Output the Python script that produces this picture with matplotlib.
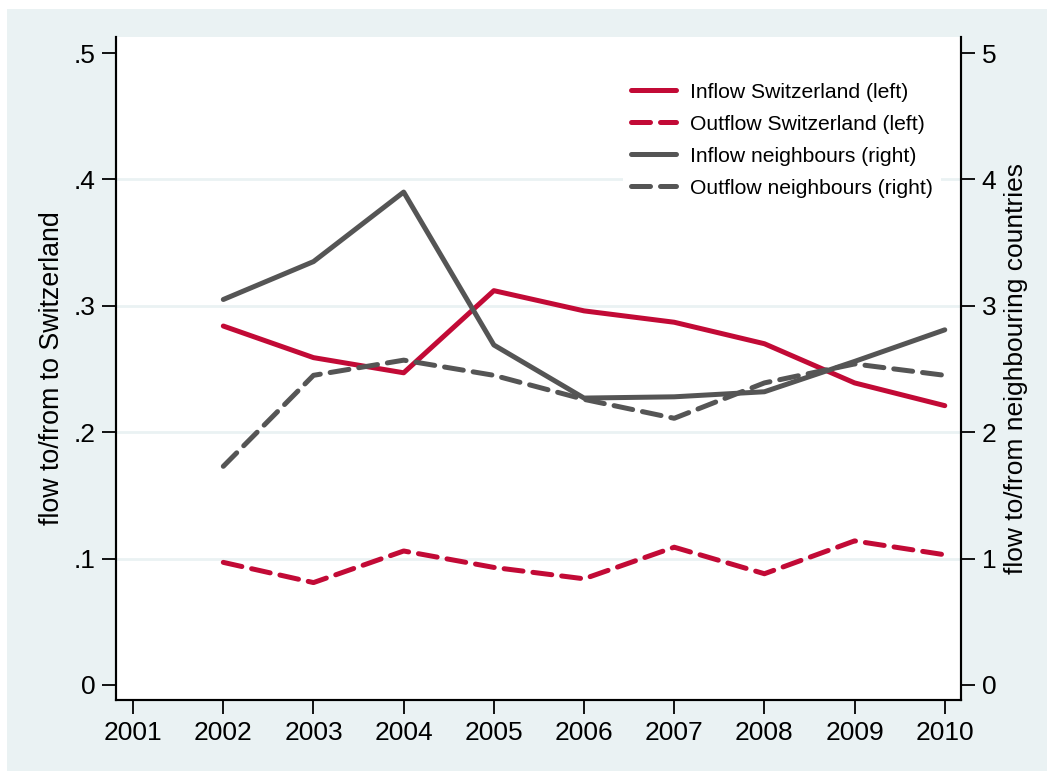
import matplotlib.pyplot as plt
import matplotlib.patches as mpatches

# ---------------- data ----------------
years = [2002, 2003, 2004, 2005, 2006, 2007, 2008, 2009, 2010]
inflow_ch = [0.284, 0.259, 0.247, 0.312, 0.296, 0.287, 0.270, 0.239, 0.221]
outflow_ch = [0.097, 0.081, 0.106, 0.093, 0.084, 0.109, 0.088, 0.114, 0.103]
inflow_nb = [3.05, 3.35, 3.90, 2.69, 2.27, 2.28, 2.32, 2.56, 2.81]
outflow_nb = [1.73, 2.45, 2.57, 2.45, 2.26, 2.11, 2.39, 2.54, 2.45]

x_ticks = list(range(2001, 2011))
left_ticks = [0, 0.1, 0.2, 0.3, 0.4, 0.5]
left_labels = ['0', '.1', '.2', '.3', '.4', '.5']
right_ticks = [0, 1, 2, 3, 4, 5]

labels = ['Inflow Switzerland (left)', 'Outflow Switzerland (left)',
          'Inflow neighbours (right)', 'Outflow neighbours (right)']

red = '#c20a36'
grey = '#555555'
bg = '#eaf2f3'

plt.rcParams['font.family'] = ['Liberation Sans', 'DejaVu Sans']

fig = plt.figure(figsize=(10.5, 7.71), dpi=100)
fig.patch.set_facecolor('white')
# light outer panel (white strip left on top, as in the source image)
fig.patches.append(mpatches.Rectangle((7 / 1050, 0), 1040 / 1050, 1 - 9 / 771,
                                      transform=fig.transFigure, facecolor=bg,
                                      edgecolor='none', zorder=-10))

ax = fig.add_axes([116 / 1050, 1 - 700 / 771, 845 / 1050, 663 / 771])
ax2 = ax.twinx()

lw = 3.6
dash = (3.8, 2.0)

# grid lines at the left ticks
for t in left_ticks[1:5]:
    ax.axhline(t, color=bg, lw=2, zorder=0)

h1, = ax.plot(years, inflow_ch, color=red, lw=lw, solid_capstyle='round', zorder=3)
h2, = ax.plot(years, outflow_ch, color=red, lw=lw, dashes=dash,
              dash_capstyle='round', zorder=3)
h3, = ax2.plot(years, inflow_nb, color=grey, lw=lw, solid_capstyle='round', zorder=3)
h4, = ax2.plot(years, outflow_nb, color=grey, lw=lw, dashes=dash,
               dash_capstyle='round', zorder=3)

ax.set_xlim(2000.81, 2010.18)
ax.set_ylim(-0.0119, 0.5127)
ax2.set_ylim(-0.119, 5.127)

ax.set_xticks(x_ticks)
ax.set_yticks(left_ticks)
ax.set_yticklabels(left_labels)
ax2.set_yticks(right_ticks)

for a in (ax, ax2):
    a.tick_params(axis='both', direction='out', length=10, width=1.3,
                  labelsize=19, pad=5, colors='black')
    a.spines['top'].set_visible(False)
    for s in ('left', 'right', 'bottom'):
        a.spines[s].set_linewidth(1.5)
ax.set_facecolor('white')

ax.set_ylabel('flow to/from to Switzerland', fontsize=19.3, labelpad=6)
ax2.set_ylabel('flow to/from neighbouring countries', fontsize=19, labelpad=5)

leg = ax2.legend([h1, h2, h3, h4], labels, loc='upper left',
                 bbox_to_anchor=((623 - 116) / 845, 0.944), fontsize=15.2,
                 frameon=True, fancybox=False, edgecolor='none',
                 facecolor='white', framealpha=1, handlelength=2.13,
                 handletextpad=0.62, labelspacing=0.62, borderpad=0.4,
                 borderaxespad=0)

fig.savefig('out.png', dpi=100, facecolor=fig.get_facecolor())
